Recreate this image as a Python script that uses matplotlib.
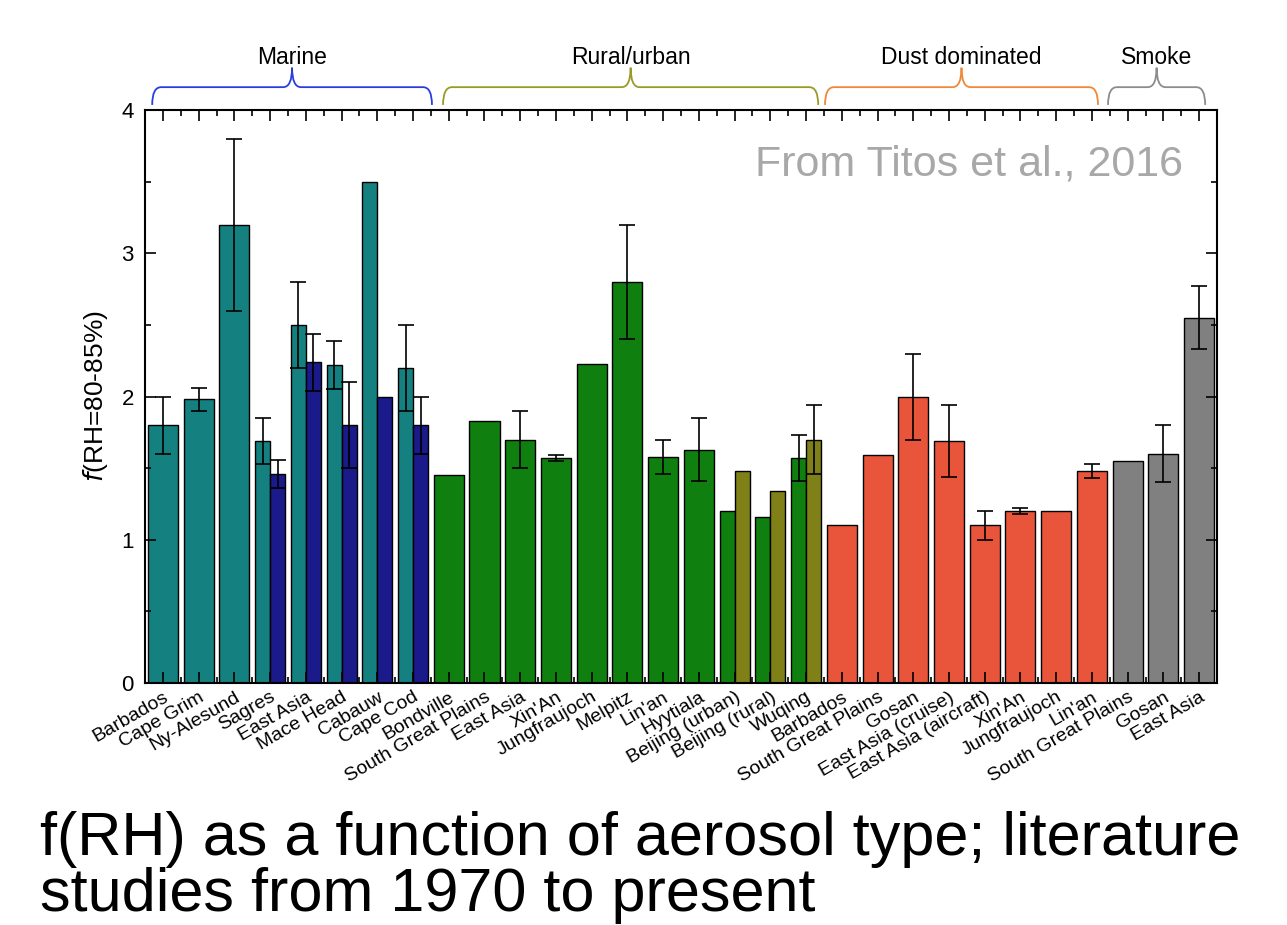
import matplotlib
matplotlib.use("Agg")
import matplotlib.pyplot as plt
import numpy as np
from matplotlib.path import Path
from matplotlib.patches import PathPatch
from matplotlib.transforms import blended_transform_factory
from matplotlib.ticker import MultipleLocator

plt.rcParams['font.family'] = ['Liberation Sans', 'DejaVu Sans']

labels = ["Barbados", "Cape Grim", "Ny-Alesund", "Sagres", "East Asia", "Mace Head",
          "Cabauw", "Cape Cod", "Bondville", "South Great Plains", "East Asia", "Xin'An",
          "Jungfraujoch", "Melpitz", "Lin'an", "Hyytiala", "Beijing (urban)",
          "Beijing (rural)", "Wuqing", "Barbados", "South Great Plains", "Gosan",
          "East Asia (cruise)", "East Asia (aircraft)", "Xin'An", "Jungfraujoch", "Lin'an",
          "South Great Plains", "Gosan", "East Asia"]

# single bars: (slot, value, error)
marine_single = [(0, 1.80, 0.20), (1, 1.98, 0.08), (2, 3.20, 0.60)]
# paired marine: slot, teal value, teal err, navy value, navy err
marine_pairs = [(3, 1.69, 0.16, 1.46, 0.10),
                (4, 2.50, 0.30, 2.24, 0.20),
                (5, 2.22, 0.17, 1.80, 0.30),
                (6, 3.50, 0.00, 2.00, 0.00),
                (7, 2.20, 0.30, 1.80, 0.20)]
rural_single = [(8, 1.45, 0.0), (9, 1.83, 0.0), (10, 1.70, 0.20), (11, 1.57, 0.02),
                (12, 2.23, 0.0), (13, 2.80, 0.40), (14, 1.58, 0.12), (15, 1.63, 0.22)]
rural_pairs = [(16, 1.20, 0.0, 1.48, 0.0),
               (17, 1.16, 0.0, 1.34, 0.0),
               (18, 1.57, 0.16, 1.70, 0.24)]
dust_single = [(19, 1.10, 0.0), (20, 1.59, 0.0), (21, 2.00, 0.30), (22, 1.69, 0.25),
               (23, 1.10, 0.10), (24, 1.20, 0.02), (25, 1.20, 0.0), (26, 1.48, 0.05)]
smoke_single = [(27, 1.55, 0.0), (28, 1.60, 0.20), (29, 2.55, 0.22)]

groups = ["Marine", "Rural/urban", "Dust dominated", "Smoke"]
group_spans = [(-0.30, 7.53), (7.84, 18.34), (18.53, 26.17), (26.45, 29.17)]
group_colors = ["#2a3ee0", "#9a9a28", "#f0883a", "#8c8c8c"]

teal = "#158080"
navy = "#1a1a8a"
green = "#0f800f"
olive = "#808018"
red = "#e8553a"
gray = "#808080"

fig = plt.figure(figsize=(12.87, 9.25), dpi=100)
ax = fig.add_axes([0.1127, 0.2616, 0.8329, 0.6194])

W = 0.84
ekw = dict(ecolor="black", elinewidth=1.2, capsize=6, capthick=1.2)


def draw_single(data, color):
    for slot, v, e in data:
        ax.bar(slot, v, width=W, color=color, edgecolor="black", linewidth=1)
        if e > 0:
            ax.errorbar(slot, v, yerr=e, fmt="none", **ekw)


def draw_pairs(data, c1, c2):
    for slot, v1, e1, v2, e2 in data:
        ax.bar(slot - W / 4, v1, width=W / 2, color=c1, edgecolor="black", linewidth=1)
        ax.bar(slot + W / 4, v2, width=W / 2, color=c2, edgecolor="black", linewidth=1)
        if e1 > 0:
            ax.errorbar(slot - W / 4, v1, yerr=e1, fmt="none", **ekw)
        if e2 > 0:
            ax.errorbar(slot + W / 4, v2, yerr=e2, fmt="none", **ekw)


draw_single(marine_single, teal)
draw_pairs(marine_pairs, teal, navy)
draw_single(rural_single, green)
draw_pairs(rural_pairs, green, olive)
draw_single(dust_single, red)
draw_single(smoke_single, gray)

ax.set_xlim(-0.5, len(labels) - 0.5)
ax.set_ylim(0, 4)
ax.set_xticks(np.arange(len(labels)))
ax.set_xticks(np.arange(len(labels) + 1) - 0.5, minor=True)
ax.set_xticklabels(labels, rotation=30, ha="right", rotation_mode="anchor", fontsize=14)
ax.yaxis.set_major_locator(MultipleLocator(1))
ax.yaxis.set_minor_locator(MultipleLocator(0.5))
ax.tick_params(axis="both", which="both", direction="in", top=True, right=True, width=1.2)
ax.tick_params(axis="both", which="major", length=8)
ax.tick_params(axis="both", which="minor", length=4)
ax.tick_params(axis="x", which="major", pad=4)
ax.tick_params(axis="y", labelsize=16, pad=8)
for s in ax.spines.values():
    s.set_linewidth(1.5)
ax.set_ylabel(r"$f$(RH=80-85%)", fontsize=19, labelpad=8)

ax.text(1183 / 1287, 0.905, "From Titos et al., 2016",
        transform=blended_transform_factory(fig.transFigure, ax.transAxes), ha="right",
        va="center", fontsize=31, color="#a8a8a8")

# curly braces over the groups
tr = blended_transform_factory(ax.transData, ax.transAxes)
yl, yb, yt = 1.009, 1.040, 1.074
r = 0.25
for name, (x0, x1), c in zip(groups, group_spans, group_colors):
    xm = (x0 + x1) / 2
    verts = [(x0, yl), (x0, yb), (x0 + r, yb), (xm - r, yb), (xm, yb), (xm, yt),
             (xm, yb), (xm + r, yb), (x1 - r, yb), (x1, yb), (x1, yl)]
    codes = [Path.MOVETO, Path.CURVE3, Path.CURVE3, Path.LINETO, Path.CURVE3, Path.CURVE3,
             Path.CURVE3, Path.CURVE3, Path.LINETO, Path.CURVE3, Path.CURVE3]
    ax.add_patch(PathPatch(Path(verts, codes), fill=False, edgecolor=c, linewidth=1.3,
                           transform=tr, clip_on=False))
    ax.text(xm, 1.092, name, transform=tr, ha="center", va="center", fontsize=16.5)

fig.text(40 / 1287, 1 - 855 / 925, "f(RH) as a function of aerosol type; literature",
         fontsize=44, va="baseline", ha="left")
fig.text(40 / 1287, 1 - 911 / 925, "studies from 1970 to present",
         fontsize=44, va="baseline", ha="left")

fig.savefig("out.png", dpi=100)
